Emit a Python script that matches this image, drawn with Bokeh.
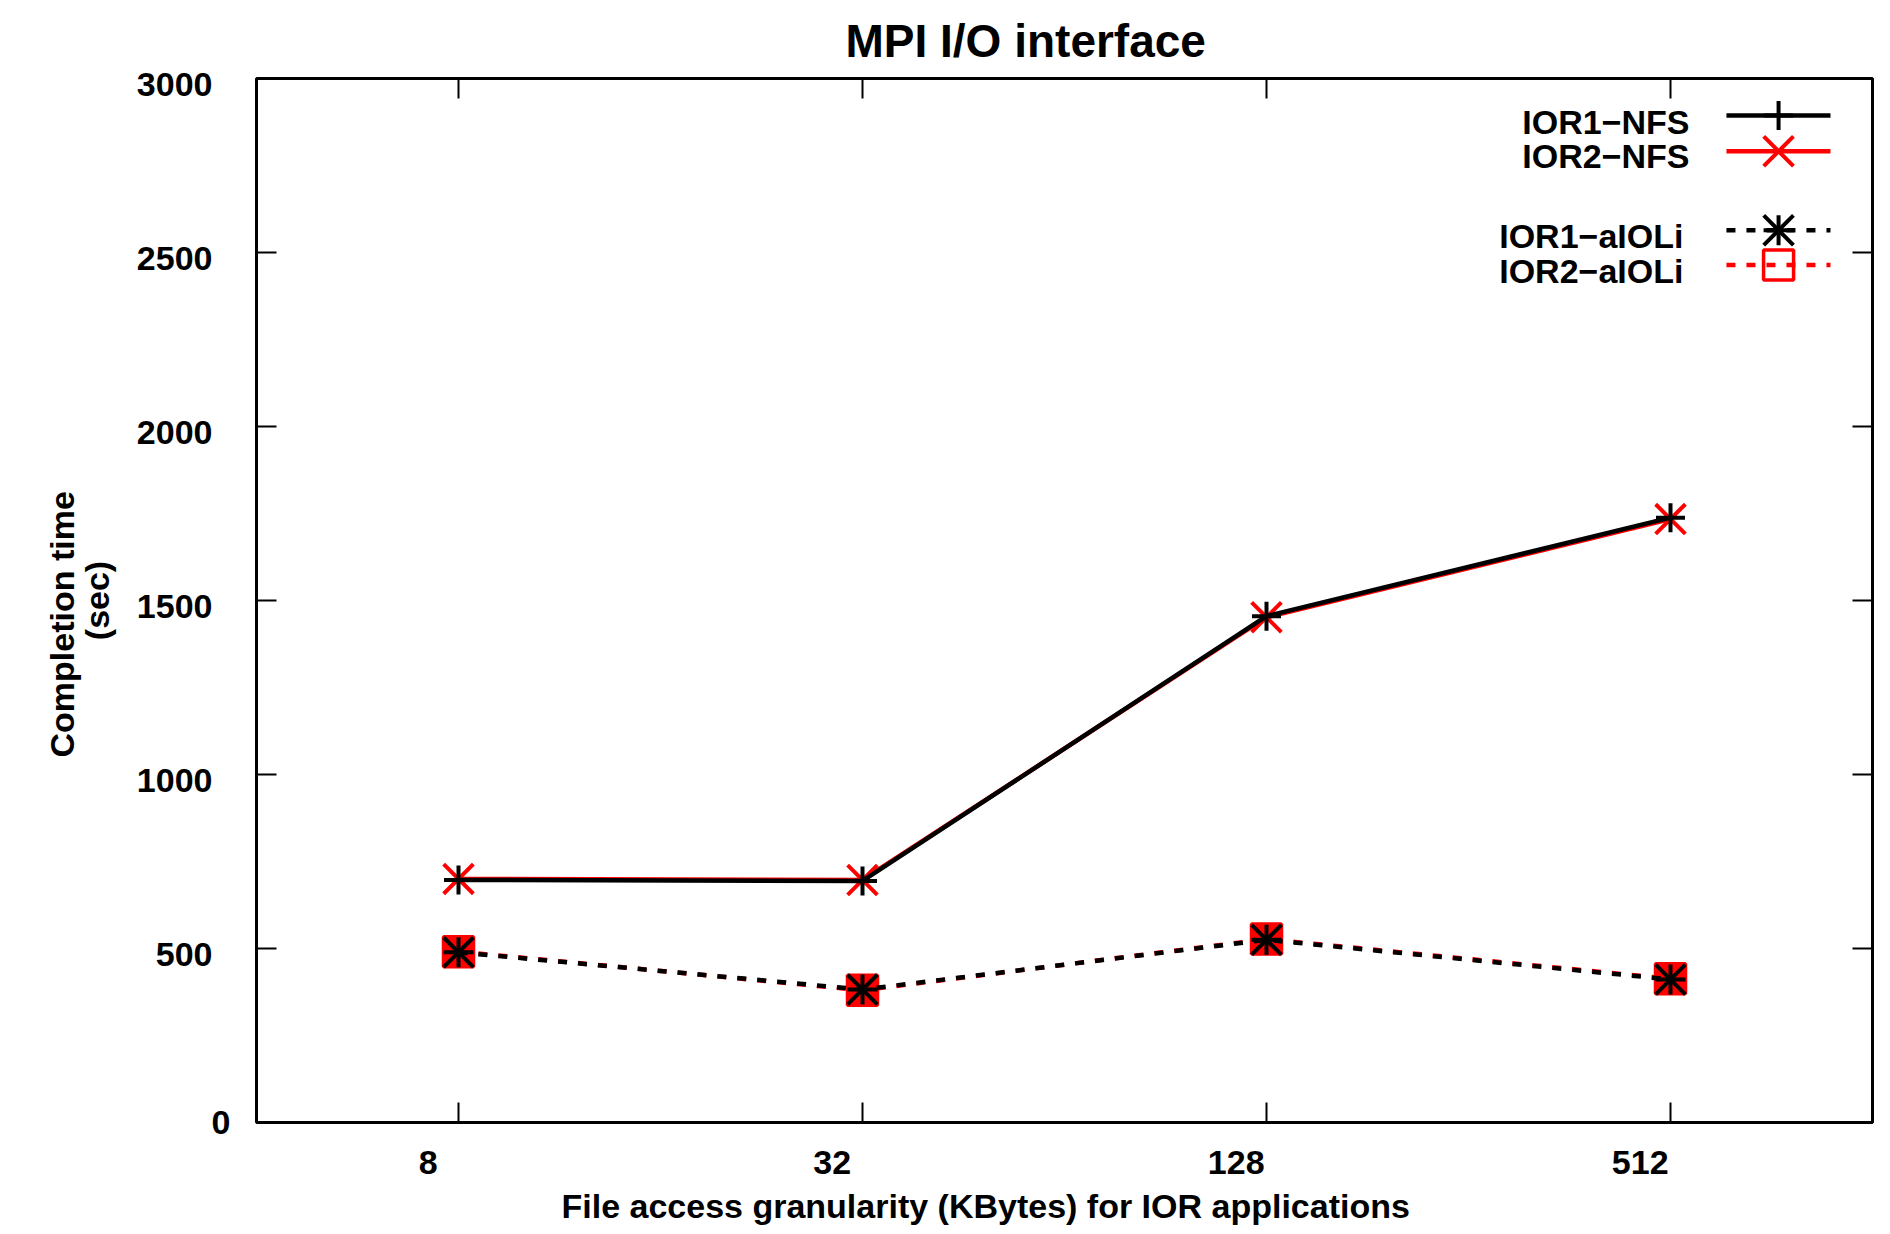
import numpy as np
from bokeh.plotting import figure
from bokeh.models import Range1d, LinearAxis, FixedTicker, Label, Title
from bokeh.embed import file_html
from bokeh.resources import INLINE

# ---------------- data ----------------
granularity_kb = [8, 32, 128, 512]
granularity_labels = ["8", "32", "128", "512"]
ior1_nfs = [697, 694, 1455, 1738]
ior2_nfs = [700, 697, 1452, 1734]
ior1_aioli = [489, 382, 525, 411]
ior2_aioli = [491, 380, 527, 413]
y_tick_values = [0, 500, 1000, 1500, 2000, 2500, 3000]
series_labels = ["IOR1\u2212NFS", "IOR2\u2212NFS", "IOR1\u2212aIOLi", "IOR2\u2212aIOLi"]
title_text = "MPI I/O interface"
x_axis_title = "File access granularity (KBytes) for IOR applications"
y_axis_title_1 = "Completion time"
y_axis_title_2 = "(sec)"

# ---------------- style ----------------
FONT = "Liberation Sans"
BLACK = "#000000"
RED = "#ff0000"
FS = "34px"

x = [float(v) for v in np.log2(granularity_kb)]   # log2 positions
X0, X1 = 2.0, 10.0
Y0, Y1 = 0.0, 3000.0

p = figure(width=1890, height=1234,
           x_range=Range1d(X0, X1), y_range=Range1d(Y0, Y1),
           x_axis_location=None, y_axis_location=None,
           output_backend="svg", toolbar_location=None,
           min_border_left=256, min_border_right=18,
           min_border_top=76, min_border_bottom=112)
p.outline_line_color = BLACK
p.outline_line_width = 3
p.background_fill_color = "white"
p.border_fill_color = "white"
p.xgrid.grid_line_color = None
p.ygrid.grid_line_color = None
p.xgrid.visible = False
p.ygrid.visible = False

# shifted ranges for tick-label placement (gnuplot-like offsets)
XSHIFT = 0.15
YSHIFT = 17
p.extra_x_ranges = {"xlab": Range1d(X0 + XSHIFT, X1 + XSHIFT)}
p.extra_y_ranges = {"ylab": Range1d(Y0 + YSHIFT, Y1 + YSHIFT)}


def tick_only_axis(ticks, loc):
    return LinearAxis(fixed_location=loc, ticker=FixedTicker(ticks=ticks),
                      major_tick_in=20, major_tick_out=0, major_tick_line_width=2,
                      major_tick_line_color=BLACK, minor_tick_line_color=None,
                      axis_line_color=None, major_label_text_color=None)


p.add_layout(tick_only_axis(y_tick_values, X0), "left")
p.add_layout(tick_only_axis(y_tick_values, X1), "right")
p.add_layout(tick_only_axis(x, Y0), "below")
p.add_layout(tick_only_axis(x, Y1), "above")

label_style = dict(major_label_text_font=FONT, major_label_text_font_size=FS,
                   major_label_text_font_style="bold", major_label_text_color=BLACK,
                   major_tick_in=0, major_tick_out=0, major_tick_line_color=None,
                   minor_tick_line_color=None, axis_line_color=None)

# "0" label: on the main range, closest to the frame
zero_axis = LinearAxis(ticker=FixedTicker(ticks=y_tick_values[:1]),
                       major_label_standoff=26, **label_style)
p.add_layout(zero_axis, "left")

# other y labels: nudged a little downwards via shifted range
try:
    ylab_axis = LinearAxis(y_range_name="ylab", ticker=FixedTicker(ticks=y_tick_values[1:]),
                           major_label_standoff=-4, **label_style)
except Exception:
    ylab_axis = LinearAxis(y_range_name="ylab", ticker=FixedTicker(ticks=y_tick_values[1:]),
                           major_label_standoff=0, **label_style)
ylab_axis.axis_label = y_axis_title_2
ylab_axis.axis_label_standoff = 18
ylab_axis.axis_label_text_font = FONT
ylab_axis.axis_label_text_font_size = FS
ylab_axis.axis_label_text_font_style = "bold"
ylab_axis.axis_label_text_color = BLACK
p.add_layout(ylab_axis, "left")

ytitle = Title(text=y_axis_title_1, align="left", offset=365,
               text_font=FONT, text_font_size=FS, text_font_style="bold", text_color=BLACK)
try:
    ytitle.standoff = -12
except Exception:
    ytitle.standoff = 0
p.add_layout(ytitle, "left")

xlab_axis = LinearAxis(x_range_name="xlab", ticker=FixedTicker(ticks=x),
                       major_label_overrides={int(v): lab for v, lab in zip(x, granularity_labels)},
                       major_label_standoff=28, **label_style)
p.add_layout(xlab_axis, "below")

p.add_layout(Title(text=x_axis_title, align="left", offset=305, standoff=16,
                   text_font=FONT, text_font_size=FS, text_font_style="bold",
                   text_color=BLACK), "below")

# title
p.title.text = title_text
p.title.align = "left"
p.title.offset = 589
p.title.standoff = 24
p.title.text_font = FONT
p.title.text_font_size = "46px"
p.title.text_font_style = "bold"
p.title.text_color = BLACK

# ---------------- series ----------------
LW = 4.5
DASH = "9 11"
XSZ = 42     # bokeh's "x" marker is drawn smaller than its size
p.line(x, ior2_nfs, line_color=RED, line_width=LW)
p.scatter(x, ior2_nfs, marker="x", size=XSZ, line_color=RED, line_width=4)
p.line(x, ior1_nfs, line_color=BLACK, line_width=LW)
p.scatter(x, ior1_nfs, marker="cross", size=29, line_color=BLACK, line_width=4)

p.line(x, ior2_aioli, line_color=RED, line_width=LW, line_dash=DASH)
p.scatter(x, ior2_aioli, marker="square", size=30, line_color=RED, fill_color=RED, line_width=3.5)
p.line(x, ior1_aioli, line_color=BLACK, line_width=LW, line_dash=DASH)
p.scatter(x, ior1_aioli, marker="cross", size=30, line_color=BLACK, line_width=4)
p.scatter(x, ior1_aioli, marker="x", size=XSZ, line_color=BLACK, line_width=4)

# ---------------- legend (gnuplot style: text left, sample right) ----------------
leg_text_x = [9.094, 9.094, 9.064, 9.064]
leg_text_y = [2875, 2776, 2547, 2446]
leg_line_y = [2894, 2791, 2564, 2464]
LX0, LX1, LXM = 9.277, 9.792, 9.535
leg_styles = [
    dict(color=BLACK, dash="solid", markers=[("cross", 29)]),
    dict(color=RED, dash="solid", markers=[("x", XSZ)]),
    dict(color=BLACK, dash=DASH, markers=[("cross", 30), ("x", XSZ)]),
    dict(color=RED, dash=DASH, markers=[("square", 30)]),
]
for lab, tx, ty, ly, st in zip(series_labels, leg_text_x, leg_text_y, leg_line_y, leg_styles):
    p.add_layout(Label(x=tx, y=ty, text=lab, text_align="right", text_baseline="middle",
                       text_font=FONT, text_font_size=FS, text_font_style="bold",
                       text_color=BLACK))
    p.line([LX0, LX1], [ly, ly], line_color=st["color"], line_width=LW, line_dash=st["dash"])
    for m, s in st["markers"]:
        p.scatter([LXM], [ly], marker=m, size=s, line_color=st["color"], fill_color=None,
                  line_width=4 if m != "square" else 3.5)

open("out.html", "w").write(file_html(p, INLINE))
